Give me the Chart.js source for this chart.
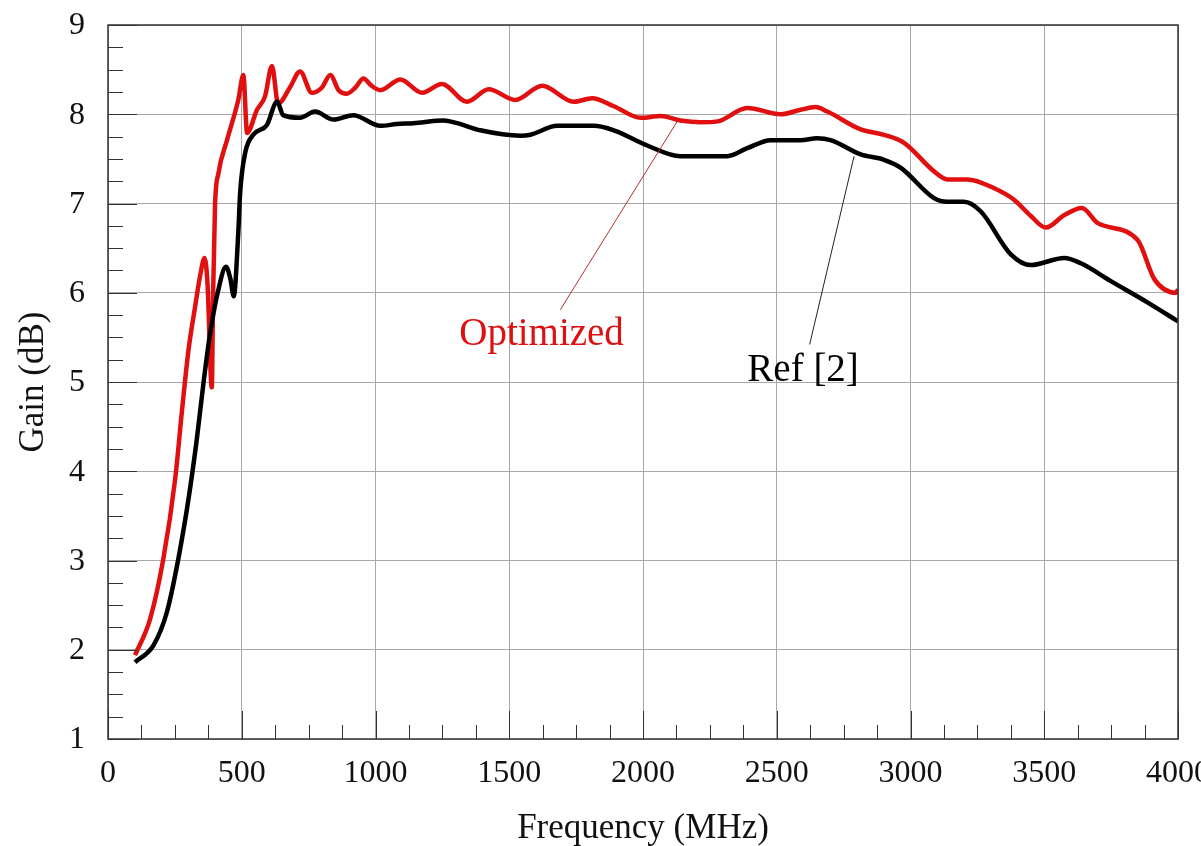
<!DOCTYPE html>
<html>
<head>
<meta charset="utf-8">
<script src="https://cdn.jsdelivr.net/npm/chart.js@4.4.0/dist/chart.umd.min.js"></script>
<style>
  html, body { margin: 0; padding: 0; background: #fff; }
</style>
</head>
<body>
<canvas id="myChart" width="1201" height="846"></canvas>
<script>
// gain vs frequency, optimized antenna against Ref [2]
var optFreq = [101, 157, 207, 251, 276, 301, 326, 345, 361, 372, 388, 393, 400, 413, 445, 487, 506, 520, 557, 587, 613, 636,
               680, 718, 762, 800, 831, 862, 893, 925, 955, 985, 1018, 1093, 1174, 1248, 1342, 1423, 1523, 1623, 1741, 1810,
               1891, 1991, 2066, 2140, 2215, 2278, 2390, 2515, 2589, 2645, 2689, 2814, 2901, 2976, 3088, 3138, 3213, 3313,
               3388, 3450, 3506, 3575, 3641, 3700, 3849, 3912, 3993, 4000];
var optGain = [1.94, 2.34, 3.02, 3.91, 4.66, 5.36, 5.85, 6.2, 6.39, 6.1, 4.94, 6.0, 6.97, 7.34, 7.71, 8.16, 8.44, 7.79, 8.05, 8.2, 8.54, 8.12,
               8.3, 8.48, 8.24, 8.3, 8.44, 8.27, 8.23, 8.3, 8.4, 8.32, 8.27, 8.39, 8.24, 8.34, 8.14, 8.28, 8.16, 8.32, 8.14, 8.18,
               8.09, 7.96, 7.98, 7.93, 7.91, 7.92, 8.07, 8.0, 8.05, 8.08, 8.03, 7.83, 7.77, 7.68, 7.36, 7.27, 7.27, 7.17,
               7.04, 6.86, 6.73, 6.87, 6.95, 6.78, 6.59, 6.15, 6.0, 6.04];

var refFreq = [101, 170, 220, 263, 301, 332, 357, 382, 413, 441, 458, 470, 487, 494, 513, 543, 594, 632, 655, 718, 774, 843, 917,
               1018, 1080, 1142, 1255, 1305, 1392, 1542, 1579, 1679, 1816, 1891, 2016, 2140, 2315, 2390, 2477, 2589, 2651,
               2701, 2814, 2901, 2964, 3088, 3138, 3200, 3263, 3375, 3450, 3575, 3637, 3749, 3887, 4000];
var refGain = [1.86, 2.05, 2.42, 3.02, 3.69, 4.36, 4.99, 5.55, 6.04, 6.29, 6.15, 5.96, 6.67, 7.12, 7.57, 7.77, 7.88, 8.14, 7.99, 7.96, 8.03, 7.94, 7.99,
               7.87, 7.89, 7.9, 7.93, 7.9, 7.82, 7.76, 7.77, 7.87, 7.87, 7.82, 7.65, 7.53, 7.53, 7.62, 7.71, 7.71, 7.73,
               7.71, 7.55, 7.49, 7.4, 7.06, 7.02, 7.02, 6.91, 6.43, 6.31, 6.39, 6.33, 6.13, 5.89, 5.68];

var xTicks = [0, 500, 1000, 1500, 2000, 2500, 3000, 3500, 4000];
var yTicks = [1, 2, 3, 4, 5, 6, 7, 8, 9];

// labels with leader lines, in data units: text position, line start, line end
var notes = [
    {text: 'Optimized', color: '#dd1111', line: '#b03030', x: 1313, y: 5.42, from: [1691, 5.81], to: [2128, 7.92]},
    {text: 'Ref [2]', color: '#000', line: '#222', x: 2390, y: 5.01, from: [2623, 5.42], to: [2789, 7.53]}
];

function toPoints(xs, ys) {
    var pts = [];
    for (var i = 0; i < xs.length; i++) pts.push({x: xs[i], y: ys[i]});
    return pts;
}

var serif = '"Liberation Serif", "Times New Roman", serif';

var axesPlugin = {
    id: 'axesPlugin',
    afterDraw: function(chart) {
        var ctx = chart.ctx, a = chart.chartArea;
        var sx = chart.scales.x, sy = chart.scales.y;
        ctx.save();

        // inward ticks, major and minor
        ctx.strokeStyle = '#333';
        ctx.lineWidth = 1;
        for (var v = 0; v <= 4000; v += 125) {
            var px = Math.round(sx.getPixelForValue(v)) + 0.5;
            var len = (v % 500 == 0) ? 28 : 14;
            ctx.beginPath(); ctx.moveTo(px, a.bottom); ctx.lineTo(px, a.bottom - len); ctx.stroke();
        }
        for (var g = 1; g <= 9; g += 0.25) {
            var py = Math.round(sy.getPixelForValue(g)) + 0.5;
            var l2 = (g % 1 == 0) ? 29 : 15;
            ctx.beginPath(); ctx.moveTo(a.left, py); ctx.lineTo(a.left + l2, py); ctx.stroke();
        }

        // frame
        ctx.lineWidth = 1.5;
        ctx.strokeStyle = '#333';
        ctx.strokeRect(a.left, a.top, a.right - a.left, a.bottom - a.top);

        // tick labels
        ctx.fillStyle = '#111';
        ctx.font = '32px ' + serif;
        ctx.textAlign = 'center';
        ctx.textBaseline = 'alphabetic';
        xTicks.forEach(function(t) {
            ctx.fillText(String(t), sx.getPixelForValue(t), a.bottom + 43);
        });
        ctx.textBaseline = 'middle';
        yTicks.forEach(function(t) {
            ctx.fillText(String(t), a.left - 31, sy.getPixelForValue(t) + 1);
        });

        // axis titles
        ctx.font = '35px ' + serif;
        ctx.textBaseline = 'alphabetic';
        ctx.fillText('Frequency (MHz)', (a.left + a.right) / 2, a.bottom + 99);
        ctx.save();
        ctx.translate(a.left - 65, (a.top + a.bottom) / 2);
        ctx.rotate(-Math.PI / 2);
        ctx.fillText('Gain (dB)', 0, 0);
        ctx.restore();

        // curve labels
        ctx.font = '39px ' + serif;
        ctx.textAlign = 'left';
        notes.forEach(function(n) {
            ctx.strokeStyle = n.line;
            ctx.lineWidth = 1;
            ctx.beginPath();
            ctx.moveTo(sx.getPixelForValue(n.from[0]), sy.getPixelForValue(n.from[1]));
            ctx.lineTo(sx.getPixelForValue(n.to[0]), sy.getPixelForValue(n.to[1]));
            ctx.stroke();
            ctx.fillStyle = n.color;
            ctx.fillText(n.text, sx.getPixelForValue(n.x), sy.getPixelForValue(n.y));
        });
        ctx.restore();
    }
};

new Chart('myChart', {
    type: 'line',
    data: {
        datasets: [{
            label: 'Ref [2]',
            data: toPoints(refFreq, refGain),
            borderColor: '#000',
            borderWidth: 4.5,
            pointRadius: 0,
            cubicInterpolationMode: 'monotone'
        }, {
            label: 'Optimized',
            data: toPoints(optFreq, optGain),
            borderColor: '#e01010',
            borderWidth: 4.5,
            pointRadius: 0,
            cubicInterpolationMode: 'monotone'
        }]
    },
    options: {
        responsive: false,
        animation: false,
        layout: {padding: {left: 108, right: 23, top: 25, bottom: 107}},
        plugins: {legend: {display: false}, tooltip: {enabled: false}},
        scales: {
            x: {
                type: 'linear', min: 0, max: 4000,
                ticks: {display: false, stepSize: 500},
                grid: {color: '#a8a8a8', lineWidth: 1, drawTicks: false},
                border: {display: false}
            },
            y: {
                type: 'linear', min: 1, max: 9,
                ticks: {display: false, stepSize: 1},
                grid: {color: '#a8a8a8', lineWidth: 1, drawTicks: false},
                border: {display: false}
            }
        }
    },
    plugins: [axesPlugin]
});
</script>
</body>
</html>
